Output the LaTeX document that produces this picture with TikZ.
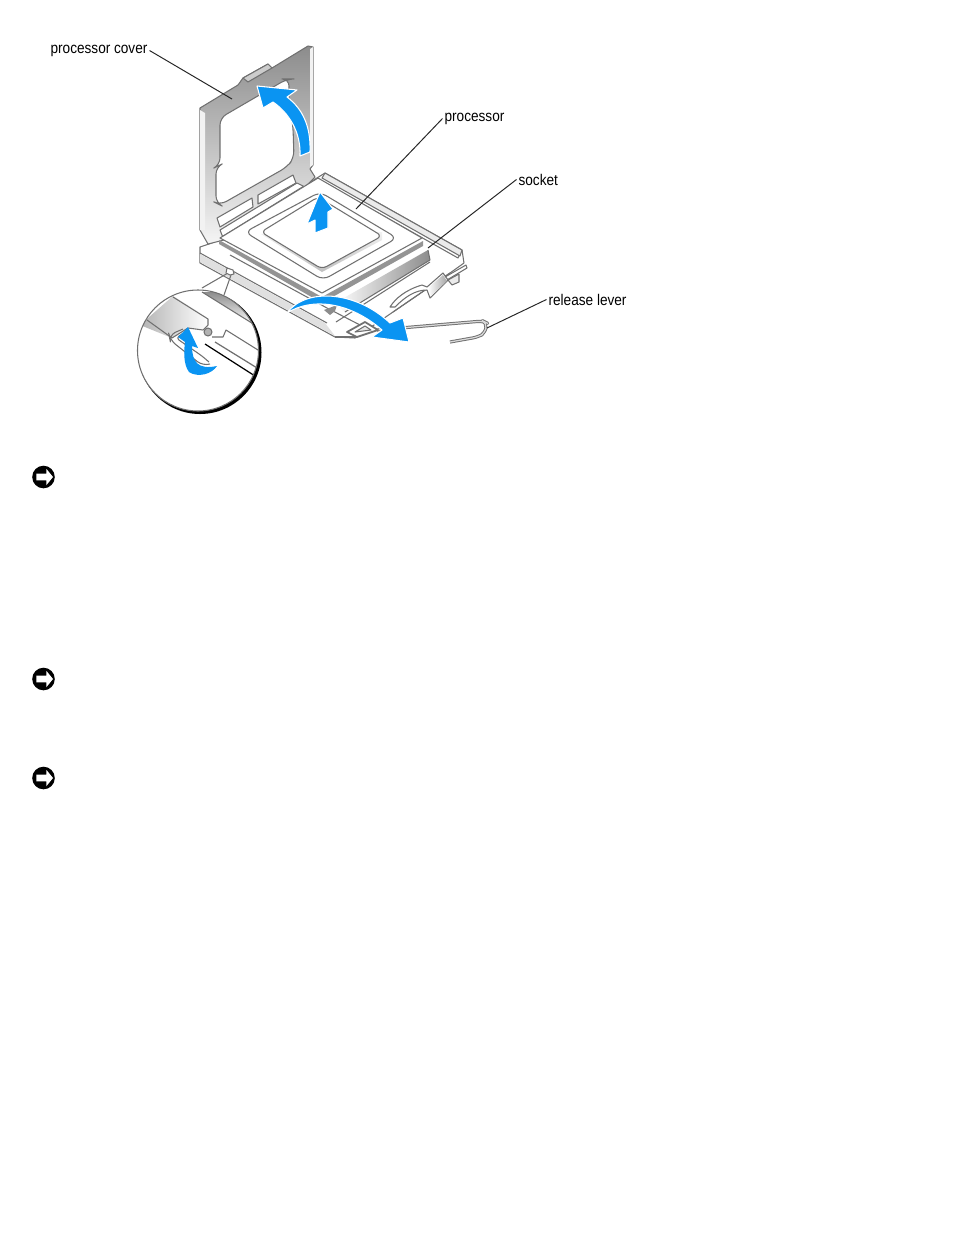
\documentclass[tikz,border=0pt]{standalone}
\usepackage{fontspec}
\usepackage{tkz-euclide}
\setmainfont[FakeStretch=0.88]{Liberation Sans}
\definecolor{arrowblue}{HTML}{0A94F2}
\definecolor{edgegrey}{HTML}{707070}
\tikzset{
	part/.style={draw=edgegrey,line width=.3pt,line join=round},
	bluearrow/.style={fill=arrowblue,draw=white,line width=.3pt,line join=round},
	callout/.style={font=\fontsize{4.4}{5}\selectfont,inner sep=.4pt,anchor=west},
	leader/.style={draw=black!85,line width=.28pt},
	notice/.pic={
		\fill[black] (0,0) circle (.113);
		\fill[white] (-.07,.034)--(.03,.034)--(.03,.08)--(.095,0)--(.03,-.08)--(.03,-.034)--(-.07,-.034)--cycle;
	}
}
\begin{document}
\begin{tikzpicture}
		\tkzInit[xmin=0,xmax=9.54,ymin=-12.35,ymax=0]
		\useasboundingbox (0,0) rectangle (9.54,-12.35);
		% base of the socket
		\tkzDefPoints{2.00/-2.47/A, 2.12/-2.43/B, 3.25/-1.73/C, 4.62/-2.50/D, 4.64/-2.63/E, 4.50/-2.73/F, 3.55/-3.38/G, 3.35/-3.37/H, 2.00/-2.63/I}
		\tkzDrawPolygon[part,fill=white](A,B,C,D,E,F,G,H,I)
		\draw[part] (3.20,-1.80)--(4.58,-2.58)--(4.62,-2.50);
		\draw[part,fill=black!8] (3.25,-1.73)--(4.62,-2.50)--(4.60,-2.56)--(3.22,-1.78)--cycle;
		\draw[part] (2.00,-2.53)--(3.27,-3.23);
		\draw[part] (2.30,-2.55)--(3.27,-3.08)--(3.62,-3.26);
		\fill[black!12] (2.00,-2.54)--(3.25,-3.23)--(3.35,-3.36)--(2.00,-2.62)--cycle;
		% wall and floor
		\shade[left color=white,right color=black!45] (3.35,-3.03)--(4.28,-2.50)--(4.30,-2.60)--(3.45,-3.12)--cycle;
		\draw[part] (3.45,-3.12)--(4.30,-2.60)--(4.28,-2.50);
		\draw[part] (3.36,-3.22)--(4.30,-2.62);
		\draw[part] (3.93,-3.12)--(4.50,-2.73);
		% lever latch
		\draw[part,fill=white] (3.90,-3.07) .. controls (3.95,-2.99) and (4.05,-2.90) .. (4.22,-2.85)--(4.27,-2.87)--(4.43,-2.73)--(4.48,-2.80)--(4.30,-2.98)--(4.27,-2.90) .. controls (4.15,-2.90) and (4.05,-2.97) .. (3.95,-3.07)--cycle;
		\shade[left color=white,right color=black!35] (4.28,-2.88)--(4.43,-2.75)--(4.47,-2.81)--(4.31,-2.96)--cycle;
		\draw[part] (4.45,-2.77)--(4.66,-2.65)--(4.67,-2.68)--(4.47,-2.80);
		\draw[part,fill=black!8] (4.48,-2.80)--(4.59,-2.74)--(4.59,-2.82)--(4.52,-2.85)--cycle;
		\fill[black!45] (3.24,-3.10)--(3.37,-3.05)--(3.35,-3.11)--(3.30,-3.15)--cycle;
		% cover
		\tkzDefPoints{2.00/-1.08/cA, 2.38/-.85/cB, 2.43/-.78/cC, 2.68/-.64/cD, 2.72/-.68/cE, 3.08/-.46/cF, 3.13/-.47/cG, 3.13/-1.65/cH, 3.10/-1.69/cI, 3.15/-1.77/cJ, 3.05/-1.87/cK, 2.97/-1.83/cL, 2.20/-2.30/cM, 2.24/-2.40/cN, 2.08/-2.44/cO, 2.00/-2.30/cP}
		\shade[top color=black!45,bottom color=black!4,draw=edgegrey,line width=.3pt,line join=round] (cA)--(cB)--(cC)--(cD)--(cE)--(cF)--(cG)--(cH)--(cI)--(cJ)--(cK)--(cL)--(cM)--(cN)--(cO)--(cP)--cycle;
		\fill[black!5] (2.00,-1.10)--(2.05,-1.13)--(2.05,-2.30)--(2.00,-2.30)--cycle;
		\fill[black!5] (3.10,-.49)--(3.13,-.47)--(3.13,-1.65)--(3.10,-1.67)--cycle;
		\draw[part,fill=black!20] (cC)--(cD)--(cE)--(2.48,-.82)--cycle;
		\draw[part,fill=white,rounded corners=2pt] (2.20,-1.18)--(2.87,-.79)--(2.89,-.79)--(2.89,-1.00)--(2.93,-1.27)--(2.94,-1.58)--(2.87,-1.67)--(2.20,-2.05)--(2.16,-2.03)--(2.16,-1.67)--(2.20,-1.65)--cycle;
		\tkzDefPoints{2.17/-2.18/sA, 2.52/-1.98/sB, 2.53/-2.07/sC, 2.20/-2.27/sD}
		\tkzDrawPolygon[part,fill=white](sA,sB,sC,sD)
		\tkzDefPoints{2.58/-1.95/sE, 2.93/-1.75/sF, 2.96/-1.83/sG, 2.58/-2.04/sH}
		\tkzDrawPolygon[part,fill=white](sE,sF,sG,sH)
		% processor
		\tkzDefPoints{2.20/-2.38/pA, 3.18/-1.78/pB, 4.22/-2.38/pC, 3.22/-2.93/pD}
		\fill[black!42] (2.19,-2.40)--(3.22,-2.97)--(4.23,-2.41)--(4.23,-2.46)--(3.22,-3.03)--(2.19,-2.44)--cycle;
		\tkzDrawPolygon[part,fill=white](pA,pB,pC,pD)
		\draw[part,rounded corners=2pt] (2.45,-2.32)--(3.20,-1.92)--(3.97,-2.38)--(3.23,-2.80)--cycle;
		\shade[top color=black!5,bottom color=black!25] (2.61,-2.34)--(3.22,-2.72)--(3.82,-2.40)--(3.82,-2.32)--cycle;
		\draw[part,fill=white,rounded corners=1.5pt] (2.61,-2.32)--(3.18,-1.97)--(3.82,-2.36)--(3.22,-2.69)--cycle;
		% blue arrows
		\draw[bluearrow] (2.57,-.86)--(2.97,-.90)--(2.87,-.97) .. controls (3.03,-1.09) and (3.11,-1.27) .. (3.10,-1.52)--(3.00,-1.56) .. controls (3.01,-1.32) and (2.89,-1.13) .. (2.73,-1.02)--(2.63,-1.08)--cycle;
		\draw[bluearrow] (3.20,-1.92)--(3.33,-2.09)--(3.28,-2.12)--(3.28,-2.28)--(3.15,-2.33)--(3.15,-2.20)--(3.07,-2.24)--cycle;
		% lever and its arrow
		\draw[edgegrey,line width=.9pt,line join=round,rounded corners=1.5pt] (3.77,-3.30)--(4.83,-3.21)--(4.87,-3.23)--(4.85,-3.33)--(4.78,-3.37)--(4.50,-3.42);
		\draw[black!15,line width=.35pt,line join=round,rounded corners=1.5pt] (3.77,-3.30)--(4.83,-3.21)--(4.87,-3.23)--(4.85,-3.33)--(4.78,-3.37)--(4.50,-3.42);
		\draw[part,fill=white,line width=.5pt] (3.47,-3.32)--(3.65,-3.22)--(3.78,-3.30)--(3.57,-3.37)--cycle;
		\draw[part,fill=black!10] (3.55,-3.32)--(3.65,-3.26)--(3.71,-3.30)--cycle;
		\draw[part] (3.35,-3.37)--(3.57,-3.37);
		\draw[bluearrow] (2.87,-3.13) .. controls (3.05,-2.88) and (3.55,-2.90) .. (3.90,-3.23)--(4.03,-3.18)--(4.09,-3.42)--(3.72,-3.37)--(3.82,-3.30) .. controls (3.50,-3.02) and (3.12,-2.97) .. (2.87,-3.13)--cycle;
		% magnified view
		\draw[edgegrey,line width=.3pt] (2.28,-2.73)--(2.02,-2.88);
		\draw[edgegrey,line width=.3pt] (2.31,-2.75)--(2.24,-2.95);
		\draw[part,fill=white] (2.27,-2.68)--(2.33,-2.70)--(2.34,-2.74)--(2.30,-2.75)--(2.26,-2.73)--cycle;
		\fill[black] (2.00,-3.525) circle (.615);
		\fill[white] (1.98,-3.505) circle (.605);
		\begin{scope}
			\clip (1.98,-3.505) circle (.605);
			\shade[left color=black!30,right color=white] (1.40,-3.25)--(1.73,-2.96)--(2.08,-3.18)--(2.08,-3.25)--(2.03,-3.30)--(1.88,-3.28)--(1.72,-3.38)--cycle;
			\draw[part] (1.47,-3.20)--(1.72,-3.38)--(1.88,-3.28)--(2.03,-3.30)--(2.08,-3.25)--(2.08,-3.19)--(1.73,-2.97);
			\shade[top color=black!45,bottom color=white] (2.02,-2.92)--(2.40,-2.92)--(2.60,-3.20)--(2.55,-3.25)--cycle;
			\draw[part] (2.02,-2.92)--(2.55,-3.25);
			\draw[part,fill=black!30] (2.08,-3.32) circle (.04);
			\draw[part] (2.12,-3.37)--(2.23,-3.37)--(2.26,-3.30)--(2.66,-3.55);
			\draw[black,line width=.35pt] (2.05,-3.44)--(2.55,-3.76);
			\draw[edgegrey,line width=.35pt] (2.15,-3.42)--(2.62,-3.71);
			\draw[part,rounded corners=2pt] (1.83,-3.29)--(1.69,-3.35)--(1.70,-3.40)--(2.03,-3.66)--(2.10,-3.64);
			\draw[part,rounded corners=1pt] (1.82,-3.34)--(1.76,-3.38)--(2.02,-3.56)--(2.09,-3.62);
		\end{scope}
		\draw[edgegrey,line width=.3pt] (1.98,-3.505) circle (.605);
		\fill[arrowblue] (1.88,-3.27)--(1.98,-3.48)--(1.92,-3.46) .. controls (1.92,-3.62) and (1.98,-3.70) .. (2.17,-3.66) .. controls (2.12,-3.74) and (1.98,-3.78) .. (1.89,-3.72) .. controls (1.83,-3.64) and (1.84,-3.50) .. (1.85,-3.42)--(1.78,-3.37)--cycle;
		% callouts
		\node[callout] (labelcover) at (.485,-.505) {processor cover};
		\node[callout] (labelproc) at (4.425,-1.185) {processor};
		\node[callout] (labelsocket) at (5.165,-1.795) {socket};
		\node[callout] (labellever) at (5.465,-2.995) {release lever};
		\coordinate (tipcover) at (2.32,-.99);
		\coordinate (tipproc) at (3.56,-2.09);
		\coordinate (tipsocket) at (4.28,-2.48);
		\coordinate (tiplever) at (4.87,-3.28);
		\draw[leader] (labelcover.east) -- (tipcover);
		\draw[leader] (labelproc.west) -- (tipproc);
		\draw[leader] (labelsocket.west) -- (tipsocket);
		\draw[leader] (labellever.west) -- (tiplever);
		% notices
		\pic at (.435,-4.77) {notice};
		\pic at (.435,-6.79) {notice};
		\pic at (.435,-7.78) {notice};
	\end{tikzpicture}
\end{document}
